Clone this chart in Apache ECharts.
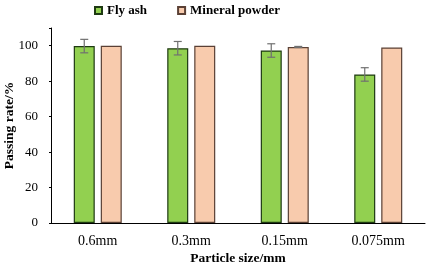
<!DOCTYPE html>
<html>
<head>
<meta charset="utf-8">
<script src="https://cdn.jsdelivr.net/npm/echarts@6/dist/echarts.min.js"></script>
<style>
  html, body { margin: 0; padding: 0; background: #fff; }
  #graph { width: 428px; height: 270px; }
</style>
</head>
<body>
<div id="graph"></div>
<script>
var categories = ['0.6mm', '0.3mm', '0.15mm', '0.075mm'];
var flyAsh = [99.8, 98.6, 97.3, 83.8];
var flyAshErr = [3.8, 3.8, 3.8, 3.8];
var mineral = [100, 100, 99.3, 99.0];
var mineralErr = [0, 0, 0.3, 0];
var yTicks = [0, 20, 40, 60, 80, 100];

var font = "'Liberation Serif', 'Times New Roman', serif";
var barW = 21;
var gapPx = 6;

function errData(vals, errs) {
  var out = [];
  for (var i = 0; i < vals.length; i++) {
    out.push([i, vals[i], errs[i]]);
  }
  return out;
}

function errBar(shift) {
  return function (params, api) {
    var x = api.value(0);
    var v = api.value(1);
    var e = api.value(2);
    if (!e) return null;
    var hi = api.coord([x, v + e]);
    var lo = api.coord([x, v - e]);
    var cx = hi[0] + shift;
    var cap = 4;
    var st = { stroke: '#707070', lineWidth: 1.2 };
    return {
      type: 'group',
      children: [
        { type: 'line', shape: { x1: cx, y1: hi[1], x2: cx, y2: lo[1] }, style: st },
        { type: 'line', shape: { x1: cx - cap, y1: hi[1], x2: cx + cap, y2: hi[1] }, style: st },
        { type: 'line', shape: { x1: cx - cap, y1: lo[1], x2: cx + cap, y2: lo[1] }, style: st }
      ]
    };
  };
}

var myChart = echarts.init(document.getElementById('graph'));
var off = (barW + gapPx) / 2;
myChart.setOption({
  backgroundColor: '#fff',
  animation: false,
  legend: {
    top: -1,
    left: 89,
    icon: 'rect',
    itemWidth: 7,
    itemHeight: 7,
    itemGap: 30,
    textStyle: { fontFamily: font, fontWeight: 'bold', fontSize: 13, color: '#000' },
    data: ['Fly ash', 'Mineral powder']
  },
  grid: { left: 51, right: 3, top: 28, bottom: 47, outerBoundsMode: 'none' },
  xAxis: {
    type: 'category',
    data: categories,
    name: 'Particle size/mm',
    nameLocation: 'middle',
    nameGap: 29,
    nameMoveOverlap: false,
    nameTextStyle: { fontFamily: font, fontWeight: 'bold', fontSize: 13.5, color: '#000' },
    axisLine: { lineStyle: { color: '#000', width: 1 } },
    axisTick: { inside: true, length: 4, lineStyle: { color: '#000' } },
    axisLabel: { fontFamily: font, fontSize: 14, color: '#000', margin: 11 }
  },
  yAxis: {
    type: 'value',
    min: 0,
    max: 110,
    interval: 20,
    name: 'Passing rate/%',
    nameLocation: 'middle',
    nameGap: 34,
    nameMoveOverlap: false,
    nameTextStyle: { fontFamily: font, fontWeight: 'bold', fontSize: 13.5, color: '#000' },
    splitLine: { show: false },
    axisLine: { show: true, lineStyle: { color: '#000', width: 1 } },
    axisTick: { show: true, length: 2, lineStyle: { color: '#000' } },
    axisLabel: {
      fontFamily: font, fontSize: 13, color: '#000', margin: 13,
      formatter: function (v) { return yTicks.indexOf(v) >= 0 ? v : ''; }
    }
  },
  series: [
    {
      name: 'Fly ash',
      type: 'bar',
      barWidth: barW,
      barGap: (gapPx / barW * 100) + '%',
      itemStyle: { color: '#92d050', borderColor: '#1e3a12', borderWidth: 1.2 },
      data: flyAsh
    },
    {
      name: 'Mineral powder',
      type: 'bar',
      barWidth: barW,
      itemStyle: { color: '#f8cbad', borderColor: '#5a4035', borderWidth: 1.2 },
      data: mineral
    },
    {
      type: 'custom',
      renderItem: errBar(-off),
      encode: { x: 0, y: 1 },
      z: 10,
      data: errData(flyAsh, flyAshErr)
    },
    {
      type: 'custom',
      renderItem: errBar(off),
      encode: { x: 0, y: 1 },
      z: 10,
      data: errData(mineral, mineralErr)
    }
  ]
});
</script>
</body>
</html>
